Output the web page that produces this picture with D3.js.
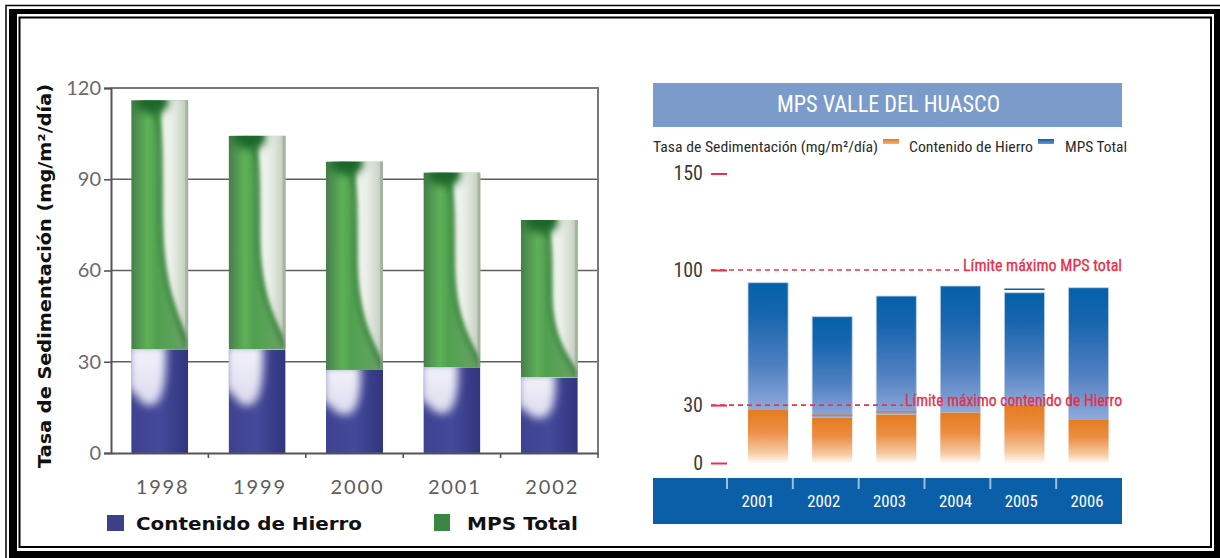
<!DOCTYPE html>
<html><head><meta charset="utf-8">
<script src="https://cdn.jsdelivr.net/npm/d3@7"></script>
<style>
html,body{margin:0;padding:0;background:#fff;}
svg{display:block;}
</style></head><body>
<svg id="chart" width="1220" height="558"></svg>
<script>
// ---- Left panel: sedimentation rate 1998–2002 ----
const yearsA = ["1998", "1999", "2000", "2001", "2002"];
const mpsTotalA = [116, 104.3, 95.8, 92.2, 76.6];
const hierroA = [34.1, 34.0, 27.3, 28.2, 24.8];
const ticksA = [0, 30, 60, 90, 120];

// ---- Right panel: MPS Valle del Huasco 2001–2006 ----
const yearsB = ["2001", "2002", "2003", "2004", "2005", "2006"];
const mpsTotalB = [93.4, 75.8, 86.5, 91.7, 88.2, 90.8];
const hierroB = [27.8, 23.3, 25.0, 26.1, 30.0, 22.6];
const hierroMarkB = [null, 24.7, 26.6, null, null, null];
const mpsMarkB = [null, null, null, null, 90.0, null];
const ticksB = [0, 30, 100, 150];
const limitValuesB = [100, 30];
const limitLabelsB = ["Límite máximo MPS total", "Límite máximo contenido de Hierro"];

const svg = d3.select("#chart");
const defs = svg.append("defs");
const NARROW = "'Liberation Sans Narrow','Arial Narrow','Roboto Condensed',Roboto,sans-serif";
const ROUND = "Lato,'Open Sans',sans-serif";
const HEAVY = "'DejaVu Sans',Verdana,sans-serif";

function linGrad(id, stops, vertical) {
  const g = defs.append("linearGradient").attr("id", id)
    .attr("x1", 0).attr("y1", 0).attr("x2", vertical ? 0 : 1).attr("y2", vertical ? 1 : 0);
  stops.forEach(([o, c, a]) => g.append("stop").attr("offset", o).attr("stop-color", c).attr("stop-opacity", a == null ? 1 : a));
  return `url(#${id})`;
}
function blur(id, sd) {
  defs.append("filter").attr("id", id).attr("x", "-30%").attr("y", "-30%").attr("width", "160%").attr("height", "160%")
    .append("feGaussianBlur").attr("stdDeviation", sd);
  return `url(#${id})`;
}

// ---- frame ----
svg.append("rect").attr("x", 6).attr("y", 5.5).attr("width", 1240).attr("height", 580)
  .attr("fill", "none").attr("stroke", "#000").attr("stroke-width", 1.5);
svg.append("path").attr("fill-rule", "evenodd").attr("fill", "#000")
  .attr("d", "M9,9H1250V590H9Z M17,14V551H1214V14Z");
svg.append("rect").attr("x", 19.5).attr("y", 17.5).attr("width", 1191.5).attr("height", 529.5)
  .attr("fill", "none").attr("stroke", "#000").attr("stroke-width", 2);

// ================= LEFT PANEL =================
const xA = d3.scaleBand().domain(yearsA).range([111, 598]).paddingInner(0.415).paddingOuter(0.2075);
const yA = d3.scaleLinear().domain([0, 120]).range([453, 88]);
const left = svg.append("g");

// grid lines behind the bars
left.append("g").selectAll("line").data(ticksA.filter(t => t > 0 && t < 120)).join("line")
  .attr("x1", 111).attr("x2", 598).attr("y1", d => yA(d)).attr("y2", d => yA(d))
  .attr("stroke", "#5f5f5f").attr("stroke-width", 1.6);
// plot box (top + right)
left.append("path").attr("d", `M111,${yA(120)}H598V${yA(0)}`).attr("fill", "none")
  .attr("stroke", "#7a7a7a").attr("stroke-width", 2);

const greenBase = linGrad("gBase", [[0, "#4a7c4c"], [0.1, "#4e9150"], [0.28, "#5eb058"], [0.45, "#51a051"], [0.75, "#5ea35b"], [1, "#6a9a66"]]);
const greenWhite = linGrad("gWhite", [[0, "#e9efe6"], [0.3, "#eef2ec"], [0.75, "#cdd6c9"], [1, "#a9b7a5"]]);
const navyBase = linGrad("nBase", [[0, "#3e4290"], [0.5, "#44499a"], [1, "#31357e"]]);
const navyWhite = linGrad("nWhite", [[0, "#f4f3fb"], [1, "#dcdaee"]], true);
const fBlurS = blur("blurS", 2);
const fBlurM = blur("blurM", 4);

const barsA = left.append("g");
yearsA.forEach((yr, i) => {
  const x0 = xA(yr), w = xA.bandwidth();
  // MPS total segment (above iron content)
  const gy0 = yA(mpsTotalA[i]), gh = yA(hierroA[i]) - gy0;
  const u = d3.scaleLinear().range([x0, x0 + w]);
  const vG = d3.scaleLinear().range([gy0, gy0 + gh]);
  defs.append("clipPath").attr("id", "cg" + i).append("rect")
    .attr("x", x0).attr("y", gy0).attr("width", w).attr("height", gh);
  const gg = barsA.append("g").attr("clip-path", `url(#cg${i})`);
  gg.append("rect").attr("x", x0).attr("y", gy0).attr("width", w).attr("height", gh).attr("fill", greenBase);
  const pw = d3.path();
  pw.moveTo(u(0.54), vG(0) + 8);
  pw.bezierCurveTo(u(0.5), vG(0.12), u(0.54), vG(0.2), u(0.54), vG(0.48));
  pw.bezierCurveTo(u(0.55), vG(0.72), u(0.78), vG(0.86), u(1.05), vG(0.98));
  pw.lineTo(u(1.05), vG(0) - 4); pw.lineTo(u(0.64), vG(0) - 4); pw.closePath();
  gg.append("path").attr("d", pw.toString()).attr("fill", greenWhite).attr("filter", fBlurS);
  const ps = d3.path();
  ps.moveTo(u(0.28), vG(0));
  ps.bezierCurveTo(u(0.42), vG(0.03), u(0.5), vG(0.08), u(0.51), vG(0.22));
  ps.lineTo(u(0.51), vG(0.48));
  ps.bezierCurveTo(u(0.52), vG(0.74), u(0.78), vG(0.87), u(1.0), vG(0.995));
  gg.append("path").attr("d", ps.toString()).attr("fill", "none").attr("stroke", "#2e7a36")
    .attr("stroke-width", 3.5).attr("opacity", 0.8).attr("filter", fBlurS);
  gg.append("ellipse").attr("cx", u(0.36)).attr("cy", gy0 + 2).attr("rx", w * 0.3).attr("ry", 11)
    .attr("fill", "#1f662a").attr("filter", fBlurM);
  gg.append("rect").attr("x", x0 + w - 3).attr("y", gy0).attr("width", 3).attr("height", gh)
    .attr("fill", "#8fa08c").attr("opacity", 0.5);

  // iron content segment
  const by0 = yA(hierroA[i]), bh = yA(0) - by0;
  const vB = d3.scaleLinear().range([by0, by0 + bh]);
  defs.append("clipPath").attr("id", "cb" + i).append("rect")
    .attr("x", x0).attr("y", by0).attr("width", w).attr("height", bh);
  const gb = barsA.append("g").attr("clip-path", `url(#cb${i})`);
  gb.append("rect").attr("x", x0).attr("y", by0).attr("width", w).attr("height", bh).attr("fill", navyBase);
  const pb = d3.path();
  pb.moveTo(u(-0.05), vB(0) - 4);
  pb.lineTo(u(0.6), vB(0) - 4);
  pb.bezierCurveTo(u(0.62), vB(0.25), u(0.58), vB(0.52), u(0.36), vB(0.54));
  pb.bezierCurveTo(u(0.16), vB(0.56), u(0.08), vB(0.4), u(-0.05), vB(0.38));
  pb.closePath();
  gb.append("path").attr("d", pb.toString()).attr("fill", navyWhite).attr("filter", fBlurM);
});

// axes
const axA = left.append("g").attr("transform", "translate(111,0)")
  .call(d3.axisLeft(yA).tickValues(ticksA).tickSize(7).tickPadding(3));
axA.select(".domain").attr("stroke", "#555").attr("stroke-width", 2);
axA.selectAll(".tick line").attr("stroke", "#555").attr("stroke-width", 1.6);
axA.selectAll(".tick text").attr("font-family", ROUND).attr("font-size", 20).attr("fill", "#6a6a6a");

const axB = left.append("g").attr("transform", `translate(0,${yA(0)})`)
  .call(d3.axisBottom(xA).tickSize(0).tickPadding(27));
axB.select(".domain").attr("stroke", "#555").attr("stroke-width", 2);
axB.selectAll(".tick text").attr("font-family", ROUND).attr("font-size", 20).attr("fill", "#5d5d5d")
  .attr("dx", 2).attr("textLength", 52).attr("lengthAdjust", "spacing");
// small ticks between categories on the baseline
left.append("g").selectAll("line").data(yearsA.slice(1).concat(["end"])).join("line")
  .attr("x1", (d, i) => i < yearsA.length - 1 ? xA(d) - xA.step() * xA.paddingInner() / 2 : 598)
  .attr("x2", (d, i) => i < yearsA.length - 1 ? xA(d) - xA.step() * xA.paddingInner() / 2 : 598)
  .attr("y1", yA(0)).attr("y2", yA(0) + 5).attr("stroke", "#555").attr("stroke-width", 1.6);

// y axis title
left.append("text").attr("transform", "translate(51,276) rotate(-90)")
  .attr("text-anchor", "middle").attr("font-family", HEAVY).attr("font-weight", 700)
  .attr("font-size", 17).attr("fill", "#111").attr("textLength", 384).attr("lengthAdjust", "spacingAndGlyphs")
  .text("Tasa de Sedimentación (mg/m²/día)");

// legend
left.append("rect").attr("x", 107).attr("y", 515).attr("width", 17).attr("height", 16).attr("fill", "#3c4088");
left.append("text").attr("x", 136).attr("y", 530).attr("font-family", HEAVY).attr("font-weight", 700)
  .attr("font-size", 18).attr("fill", "#111").attr("textLength", 226).attr("lengthAdjust", "spacingAndGlyphs")
  .text("Contenido de Hierro");
left.append("rect").attr("x", 434).attr("y", 514).attr("width", 16).attr("height", 17).attr("fill", "#3a8743");
left.append("text").attr("x", 467).attr("y", 530).attr("font-family", HEAVY).attr("font-weight", 700)
  .attr("font-size", 18).attr("fill", "#111").attr("textLength", 111).attr("lengthAdjust", "spacingAndGlyphs")
  .text("MPS Total");

// ================= RIGHT PANEL =================
const right = svg.append("g");
const yR = d3.scaleLinear().domain([0, 150]).range([463, 173.5]);
const xBar = d3.scaleBand().domain(yearsB).range([736, 1120.6]).paddingInner(0.375).paddingOuter(0.1875);
const xLab = d3.scaleBand().domain(yearsB).range([727, 1122]);

// title banner
right.append("rect").attr("x", 653).attr("y", 83).attr("width", 469).attr("height", 44).attr("fill", "#7b9bcb");
right.append("text").attr("x", 888.5).attr("y", 112).attr("text-anchor", "middle")
  .attr("font-family", NARROW).attr("font-size", 23).attr("fill", "#fff")
  .attr("textLength", 223).attr("lengthAdjust", "spacingAndGlyphs").text("MPS VALLE DEL HUASCO");

// legend row
const legendFont = sel => sel.attr("font-family", NARROW).attr("font-size", 15).attr("fill", "#2b2b2b")
  .attr("lengthAdjust", "spacingAndGlyphs");
right.append("text").attr("x", 653).attr("y", 152).call(legendFont).attr("textLength", 225)
  .text("Tasa de Sedimentación (mg/m²/día)");
const swOrange = linGrad("swO", [[0, "#e67b1f"], [1, "#f3b27a"]], true);
const swBlue = linGrad("swB", [[0, "#0b5fa8"], [1, "#6f93cc"]], true);
right.append("rect").attr("x", 883).attr("y", 139).attr("width", 16).attr("height", 5).attr("fill", swOrange);
right.append("text").attr("x", 909).attr("y", 152).call(legendFont).attr("textLength", 124).text("Contenido de Hierro");
right.append("rect").attr("x", 1038).attr("y", 139).attr("width", 16).attr("height", 5).attr("fill", swBlue);
right.append("text").attr("x", 1065).attr("y", 152).call(legendFont).attr("textLength", 62).text("MPS Total");

// y axis: red tick dashes and labels
const axR = right.append("g").attr("transform", "translate(727,0)")
  .call(d3.axisLeft(yR).tickValues(ticksB).tickSize(16).tickPadding(8));
axR.select(".domain").remove();
axR.selectAll(".tick line").attr("stroke", "#e8334a").attr("stroke-width", 2);
axR.selectAll(".tick text").attr("font-family", NARROW).attr("font-size", 20).attr("fill", "#3e3a36");

// bars
const blueFill = linGrad("bBlue", [[0, "#0461aa"], [0.25, "#1765ae"], [0.65, "#4f7fc0"], [1, "#8ea9da"]], true);
const orangeFill = linGrad("bOrange", [[0, "#e67b1f"], [0.4, "#eb8d42"], [0.8, "#f6c9a0"], [1, "#fffaf5"]], true);
const barsB = right.append("g");
yearsB.forEach((yr, i) => {
  const x0 = xBar(yr), w = xBar.bandwidth();
  barsB.append("rect").attr("x", x0).attr("y", yR(mpsTotalB[i])).attr("width", w)
    .attr("height", yR(hierroB[i]) - yR(mpsTotalB[i])).attr("fill", blueFill)
    .attr("stroke", "#b9cfea").attr("stroke-width", 0.8);
  barsB.append("rect").attr("x", x0).attr("y", yR(hierroB[i])).attr("width", w)
    .attr("height", yR(0) - yR(hierroB[i])).attr("fill", orangeFill);
  if (hierroMarkB[i] != null) {
    barsB.append("line").attr("x1", x0).attr("x2", x0 + w).attr("y1", yR(hierroMarkB[i])).attr("y2", yR(hierroMarkB[i]))
      .attr("stroke", "#e67b1f").attr("stroke-width", 1.5);
  }
  if (mpsMarkB[i] != null) {
    barsB.append("line").attr("x1", x0).attr("x2", x0 + w).attr("y1", yR(mpsMarkB[i])).attr("y2", yR(mpsMarkB[i]))
      .attr("stroke", "#0461aa").attr("stroke-width", 1.5);
  }
});

// limit lines with labels
const limitFonts = [16, 17];
const limitWidths = [159, 217];
limitValuesB.forEach((v, i) => {
  const x1 = 1122 - limitWidths[i] - 2;
  right.append("line").attr("x1", 711).attr("x2", x1).attr("y1", yR(v)).attr("y2", yR(v))
    .attr("stroke", "#e8334a").attr("stroke-width", 1.6).attr("stroke-dasharray", "5,4");
  right.append("text").attr("x", 1122).attr("y", yR(v) + 1).attr("text-anchor", "end")
    .attr("font-family", NARROW).attr("font-size", limitFonts[i]).attr("fill", "#e4304a")
    .attr("stroke", "#e4304a").attr("stroke-width", 0.3)
    .attr("textLength", limitWidths[i]).attr("lengthAdjust", "spacingAndGlyphs").text(limitLabelsB[i]);
});

// category band at the bottom
right.append("rect").attr("x", 653).attr("y", 478).attr("width", 469).attr("height", 46).attr("fill", "#0b5fa8");
right.append("g").selectAll("line").data(yearsB).join("line")
  .attr("x1", d => xLab(d)).attr("x2", d => xLab(d)).attr("y1", 478).attr("y2", 489)
  .attr("stroke", "#ffffff").attr("stroke-opacity", 0.6).attr("stroke-width", 2);
right.append("g").selectAll("text").data(yearsB).join("text")
  .attr("x", d => xLab(d) + xLab.bandwidth() / 2 - 2).attr("y", 507).attr("text-anchor", "middle")
  .attr("font-family", NARROW).attr("font-size", 17).attr("fill", "#fff")
  .attr("textLength", 33).attr("lengthAdjust", "spacingAndGlyphs").text(d => d);
</script>
</body></html>
